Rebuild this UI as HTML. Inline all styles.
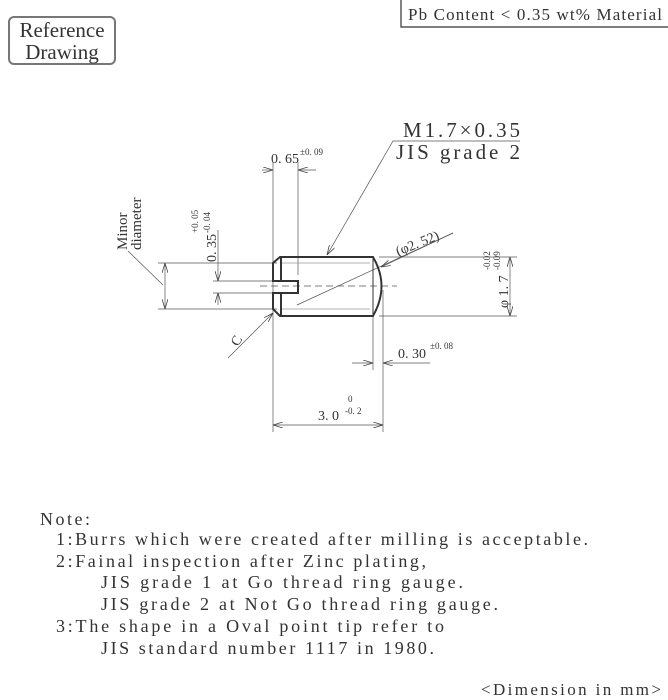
<!DOCTYPE html>
<html><head><meta charset="utf-8"><style>body{margin:0;background:#fff}svg{display:block}text{font-family:"Liberation Serif",serif;fill:#333}</style></head><body>
<svg width="668" height="700" viewBox="0 0 668 700" xmlns="http://www.w3.org/2000/svg">
<defs><marker id="a" markerWidth="10" markerHeight="6" refX="10" refY="3" orient="auto-start-reverse" markerUnits="userSpaceOnUse"><path d="M0,0 L10,3 L0,6" fill="none" stroke="#444" stroke-width="0.8"/></marker></defs>
<rect x="9" y="17" width="106" height="47" rx="5" fill="none" stroke="#777" stroke-width="2"/>
<text x="62" y="37" font-size="21" text-anchor="middle" fill="#555">Reference</text>
<text x="62" y="59" font-size="21" text-anchor="middle" fill="#555">Drawing</text>
<path d="M401,0 V27 H668" fill="none" stroke="#333" stroke-width="1.2"/>
<text x="408" y="20" font-size="17" textLength="254">Pb Content &lt; 0.35 wt% Material</text>
<g stroke="#555" stroke-width="0.7" fill="none">
<line x1="273" y1="162" x2="273" y2="432"/><line x1="298" y1="162" x2="298" y2="275"/>
<path d="M262,170 H273" marker-end="url(#a)"/><path d="M316,170 H298" marker-end="url(#a)"/>
<line x1="158" y1="263" x2="277" y2="263"/><line x1="158" y1="309" x2="277" y2="309"/>
<line x1="165" y1="263" x2="165" y2="309" marker-start="url(#a)" marker-end="url(#a)"/>
<line x1="213" y1="281" x2="273" y2="281"/><line x1="213" y1="293" x2="273" y2="293"/>
<line x1="218" y1="230" x2="218" y2="281" marker-end="url(#a)"/><line x1="218" y1="305" x2="218" y2="293" marker-end="url(#a)"/>
<line x1="379" y1="257" x2="517" y2="257"/><line x1="379" y1="316" x2="517" y2="316"/>
<line x1="510" y1="257" x2="510" y2="316" marker-start="url(#a)" marker-end="url(#a)"/>
<line x1="373" y1="316" x2="373" y2="370"/><line x1="383" y1="290" x2="383" y2="432"/>
<path d="M352,363 H373" marker-end="url(#a)"/><path d="M430,363 H383" marker-end="url(#a)"/>
<line x1="273" y1="425" x2="383" y2="425" marker-start="url(#a)" marker-end="url(#a)"/>
<path d="M520,141 H393 L327,255" marker-end="url(#a)"/>
<line x1="297" y1="305" x2="453" y2="233"/>
<path d="M453,233 L381,267" marker-end="url(#a)"/>
<path d="M228,358 L273,313" marker-end="url(#a)"/>
<line x1="128" y1="251" x2="163" y2="285"/>
<line x1="260" y1="286" x2="397" y2="286" stroke-dasharray="7,4"/>
<line x1="282" y1="263" x2="370" y2="263" stroke="#999"/><line x1="282" y1="309" x2="370" y2="309" stroke="#999"/>
</g>
<g stroke="#333" stroke-width="2" fill="none">
<path d="M280,257 H373 Q390,286 373,316 H280 L273,309 V293 H298 V281 H273 V263 Z"/>
<line x1="281" y1="258" x2="281" y2="281"/><line x1="281" y1="293" x2="281" y2="315"/>
<line x1="373" y1="257" x2="373" y2="316" stroke-width="1"/>
</g>
<g font-size="14">
<text x="271" y="163">0. 65</text><text x="300" y="155" font-size="9">±0. 09</text>
<text x="403" y="137" font-size="21" textLength="117">M1.7×0.35</text>
<text x="396" y="159" font-size="21" textLength="124">JIS grade 2</text>
<text transform="translate(398,256) rotate(-22)">(φ2. 52)</text>
<text x="398" y="358">0. 30</text><text x="430" y="349" font-size="9">±0. 08</text>
<text x="318" y="420">3. 0</text><text x="348" y="402" font-size="9">0</text><text x="345" y="414" font-size="9">-0. 2</text>
<text transform="translate(216,262) rotate(-90)">0. 35</text>
<text transform="translate(198,233) rotate(-90)" font-size="9">+0. 05</text>
<text transform="translate(210,233) rotate(-90)" font-size="9">-0. 04</text>
<text transform="translate(508,308) rotate(-90)">φ 1. 7</text>
<text transform="translate(490,270) rotate(-90)" font-size="9">-0.02</text>
<text transform="translate(500,270) rotate(-90)" font-size="9">-0.09</text>
<text transform="translate(127,250) rotate(-90)" font-size="15">Minor</text>
<text transform="translate(141,250) rotate(-90)" font-size="15">diameter</text>
<text transform="translate(238,347) rotate(-60)">C</text>
</g>
<g font-size="18" fill="#333">
<text x="40" y="525" textLength="50">Note:</text>
<text x="56" y="545" textLength="532">1:Burrs which were created after milling is acceptable.</text>
<text x="56" y="567" textLength="370">2:Fainal inspection after Zinc plating,</text>
<text x="101" y="588" textLength="362">JIS grade 1 at Go thread ring gauge.</text>
<text x="101" y="610" textLength="397">JIS grade 2 at Not Go thread ring gauge.</text>
<text x="56" y="632" textLength="388">3:The shape in a Oval point tip refer to</text>
<text x="101" y="654" textLength="333">JIS standard number 1117 in 1980.</text>
<text x="481" y="695" font-size="17" textLength="180">&lt;Dimension in mm&gt;</text>
</g>
</svg>
</body></html>
